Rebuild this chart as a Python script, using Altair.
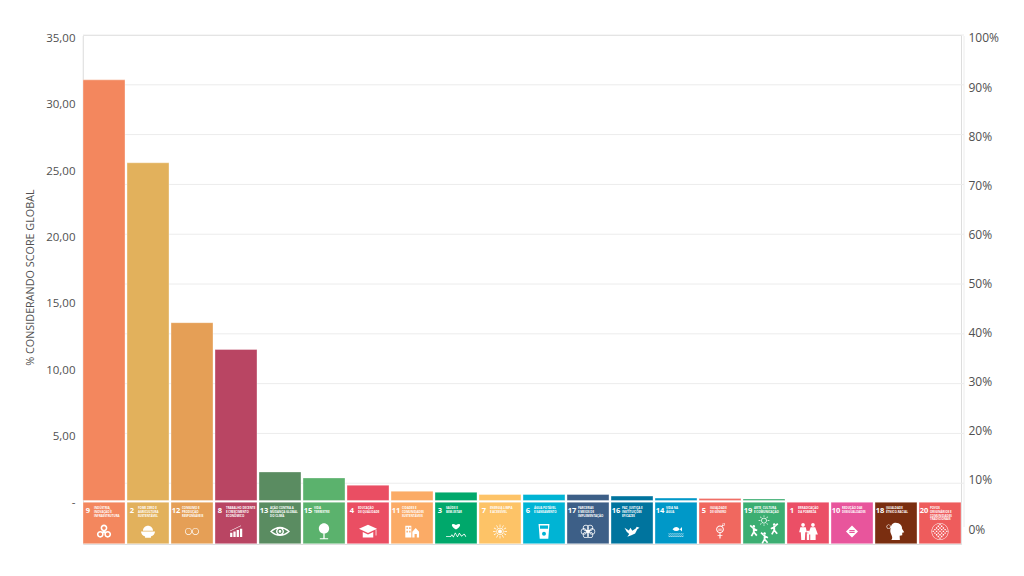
import math
import altair as alt
import pandas as pd

CATEGORIES = ["9", "2", "12", "8", "13", "15", "4", "11", "3", "7", "6", "17", "16", "14", "5", "19", "1", "10", "18", "20"]
VALUES = [31.7, 25.45, 13.4, 11.38, 2.15, 1.7, 1.15, 0.7, 0.62, 0.45, 0.45, 0.45, 0.33, 0.18, 0.14, 0.12, 0, 0, 0, 0]
COLORS = ["#F3875E", "#E2B15C", "#E59F56", "#B94563", "#5A8C61", "#5BB26D", "#EA4E63", "#FBAB66", "#00A86B", "#FDC367",
          "#00B4D4", "#3D5F87", "#00749E", "#0098C8", "#F0685F", "#3CAE72", "#EB4F66", "#E8559C", "#7A2E10", "#EE5C5C"]
NAMES = ["INDÚSTRIA,\nINOVAÇÃO E\nINFRAESTRUTURA", "FOME ZERO E\nAGRICULTURA\nSUSTENTÁVEL", "CONSUMO E\nPRODUÇÃO\nRESPONSÁVEIS",
         "TRABALHO DECENTE\nE CRESCIMENTO\nECONÔMICO", "AÇÃO CONTRA A\nMUDANÇA GLOBAL\nDO CLIMA", "VIDA\nTERRESTRE",
         "EDUCAÇÃO\nDE QUALIDADE", "CIDADES E\nCOMUNIDADES\nSUSTENTÁVEIS", "SAÚDE E\nBEM-ESTAR", "ENERGIA LIMPA\nE ACESSÍVEL",
         "ÁGUA POTÁVEL\nE SANEAMENTO", "PARCERIAS\nE MEIOS DE\nIMPLEMENTAÇÃO", "PAZ, JUSTIÇA E\nINSTITUIÇÕES\nEFICAZES", "VIDA NA\nÁGUA",
         "IGUALDADE\nDE GÊNERO", "ARTE, CULTURA\nE COMUNICAÇÃO", "ERRADICAÇÃO\nDA POBREZA", "REDUÇÃO DAS\nDESIGUALDADES",
         "IGUALDADE\nÉTNICO-RACIAL", "POVOS\nORIGINÁRIOS E\nCOMUNIDADES\nTRADICIONAIS"]
LEFT_TICKS = [0, 5, 10, 15, 20, 25, 30, 35]
RIGHT_TICKS = [0, 10, 20, 30, 40, 50, 60, 70, 80, 90, 100]
GRID_LEVELS = [10, 20, 30, 40, 50, 60, 70, 80, 90, 100]
Y_TITLE = "% CONSIDERANDO SCORE GLOBAL"


# ---- small helpers that draw the white pictograms as symbol paths (unit box -1..1)
def poly(*p):
    return "M" + " L".join(f"{x:.3f},{y:.3f}" for x, y in p) + " Z "
def rect(a, b, c, d):
    return poly((a, b), (c, b), (c, d), (a, d))
def hole(a, b, c, d):
    return poly((a, b), (a, d), (c, d), (c, b))
def circ(x, y, r, ccw=False):
    s = 0 if ccw else 1
    return f"M{x-r:.3f},{y:.3f} A{r:.3f},{r:.3f} 0 1 {s} {x+r:.3f},{y:.3f} A{r:.3f},{r:.3f} 0 1 {s} {x-r:.3f},{y:.3f} Z "
def ring(x, y, r, t):
    return circ(x, y, r) + circ(x, y, r - t, True)
def line(pts, w=.07):
    out = ""
    for (a, b), (c, d) in zip(pts, pts[1:]):
        L = math.hypot(c - a, d - b) or 1
        nx, ny = -(d - b) / L * w, (c - a) / L * w
        out += poly((a + nx, b + ny), (c + nx, d + ny), (c - nx, d - ny), (a - nx, b - ny))
    return out
def dancer(x, y, k=1):
    return circ(x, y - .32, .11) + line([(x, y - .2), (x, y + .15)], .08) + line([(x - .3 * k, y - .4), (x, y - .12), (x + .28 * k, y + .02)]) \
        + line([(x - .2, y + .5), (x, y + .15), (x + .25, y + .45)])

sun_rays = "".join(line([(.62 * math.cos(a * math.pi / 6), .62 * math.sin(a * math.pi / 6)),
                         (1.0 * math.cos(a * math.pi / 6), 1.0 * math.sin(a * math.pi / 6))], .05) for a in range(12))
flower = "".join(ring(.55 * math.cos(a * math.pi / 3), .55 * math.sin(a * math.pi / 3), .42, .1) for a in range(6))
mosaic = "".join(rect(x * .2 - .08, y * .2 - .08, x * .2 + .08, y * .2 + .08)
                 for x in range(-4, 5) for y in range(-4, 5) if (x + y) % 2 == 0 and x * x + y * y <= 17)

ICONS = {
    "9": ring(0, -.42, .42, .2) + ring(-.46, .36, .42, .2) + ring(.46, .36, .42, .2) + circ(0, .02, .2),
    "2": "M-.72,-.08 A.72,.72 0 0 1 .72,-.08 Z M-1,.02 L1,.02 C.95,.55 .55,.7 .42,.72 L.42,.9 L-.42,.9 L-.42,.72 C-.55,.7 -.95,.55 -1,.02 Z ",
    "12": ring(-.46, 0, .46, .09) + ring(.46, 0, .46, .09),
    "8": rect(-.9, .2, -.55, .85) + rect(-.4, 0, -.05, .85) + rect(.1, -.2, .45, .85) + rect(.6, -.4, .95, .85) + line([(-.9, -.05), (.75, -.85)], .035),
    "13": "M-1.25,0 Q0,-1.15 1.25,0 Q0,1.15 -1.25,0 Z M-1,0 Q0,.8 1,0 Q0,-.8 -1,0 Z " + ring(0, 0, .5, .18) + circ(0, 0, .16),
    "15": circ(0, -.35, .62) + rect(-.08, .1, .08, .82) + rect(-.5, .82, .5, .95),
    "4": poly((-1.2, -.35), (0, -.9), (1.2, -.35), (0, .2)) + poly((-.7, .08), (0, .42), (.7, .08), (.7, .8), (-.7, .8)) + rect(1.02, -.25, 1.12, .55),
    "11": rect(-1, -.85, -.1, .9) + hole(-.82, -.6, -.62, -.35) + hole(-.42, -.6, -.22, -.35) + hole(-.82, -.1, -.62, .15) + hole(-.42, -.1, -.22, .15)
          + poly((.05, .05), (.55, -.5), (1.05, .05), (1.05, .9), (.72, .9), (.72, .4), (.38, .4), (.38, .9), (.05, .9)),
    "3": "M0,-.25 C-.9,-.8 -.55,-1.25 0,-.85 C.55,-1.25 .9,-.8 0,-.25 Z " + line([(-1.35, .72), (-.75, .72), (-.55, .45), (-.35, .78), (-.1, .2), (.2, .75), (.45, .25), (.75, .65), (1.1, .35), (1.35, .72)], .05),
    "7": ring(0, 0, .52, .1) + circ(0, 0, .28) + sun_rays,
    "6": poly((-.7, -.95), (.7, -.95), (.55, .95), (-.55, .95)) + hole(-.52, -.75, .52, -.35) + circ(0, .3, .25, True),
    "17": flower + circ(0, 0, .22),
    "16": poly((-1.2, -.6), (-.5, -.15), (-.25, -.6), (.05, -.1), (.6, -.45), (.75, -.75), (1.2, -.6), (.85, -.35), (.5, .35), (-.1, .6), (-.75, .85), (-.45, .4), (-.85, .05)),
    "14": "M-.55,-.35 Q.05,-1 .6,-.35 L.95,-.7 L.95,0 L.6,-.35 Q.05,.25 -.55,-.35 Z " + "".join(
        line([(-1.2 + i * .3, y), (-1.05 + i * .3, y + .1), (-.9 + i * .3, y)], .04) for i in range(8) for y in (.35, .7)),
    "5": ring(0, -.3, .55, .14) + rect(-.08, .2, .08, 1.0) + rect(-.35, .5, .35, .64) + rect(-.25, -.36, .25, -.26) + rect(-.25, -.18, .25, -.08) + line([(.3, -.75), (.55, -1.05)], .07) + poly((.3, -1.1), (.7, -1.15), (.62, -.78)),
    "19": ring(0, -.9, .24, .06) + dancer(-.85, -.1) + dancer(.85, -.25, -1) + dancer(.05, .5) + "".join(
        line([(.3 * math.cos(a * math.pi / 4), -.9 + .3 * math.sin(a * math.pi / 4)), (.45 * math.cos(a * math.pi / 4), -.9 + .45 * math.sin(a * math.pi / 4))], .025) for a in range(8)),
    "1": circ(-.55, -.72, .2) + poly((-.85, -.45), (-.25, -.45), (-.12, .1), (-.3, .1), (-.35, .95), (-.75, .95), (-.8, .1), (-.98, .1))
         + circ(.55, -.72, .2) + poly((.3, -.45), (.8, -.45), (1.1, .35), (.85, .35), (.85, .95), (.25, .95), (.25, .35), (0, .35))
         + circ(0, .05, .13) + rect(-.13, .22, .13, .95),
    "10": poly((0, -.95), (.95, 0), (0, .95), (-.95, 0)) + hole(-.42, -.24, .42, -.07) + hole(-.42, .07, .42, .24),
    "18": "M-.15,-1 C.45,-1.05 .75,-.6 .7,-.3 L.95,.1 L.72,.15 L.72,.45 L.42,.5 L.45,1 L-.55,1 C-.2,.6 -.75,.3 -.65,-.2 C-.6,-.7 -.45,-.95 -.15,-1 Z "
          + ring(-.85, -.55, .25, .07) + rect(-.15, .25, .1, .65),
    "20": ring(0, 0, 1.0, .06) + mosaic,
}
ICON_AREAS = {"9": 260, "2": 196, "12": 231, "8": 172, "13": 256, "15": 276, "4": 225, "11": 180, "3": 219, "7": 196,
              "6": 243, "17": 225, "16": 156, "14": 160, "5": 196, "19": 576, "1": 324, "10": 160, "18": 300, "20": 289}

data = pd.DataFrame({"cat": CATEGORIES, "value": VALUES, "color": COLORS, "name": NAMES})
data["icon"] = [ICONS[c] for c in CATEGORIES]
data["area"] = [ICON_AREAS[c] for c in CATEGORIES]
bars_df = data[data["value"] > 0]

FONT = "Open Sans"
GREY = "#505050"
LINE = "#ececec"

x_enc = alt.X("cat:N", sort=CATEGORIES, axis=None,
              scale=alt.Scale(paddingInner=2 / 44, paddingOuter=0))
color_enc = alt.Color("color:N", scale=None, legend=None)
left = alt.Scale(domain=[-3.28, 35.08], nice=False, zero=False)
right = alt.Scale(domain=[-3.46, 100.2], nice=False, zero=False)
grid_scale = alt.Scale(domain=[-2.2, 100], nice=False, zero=False)

grid = alt.Chart(pd.DataFrame({"level": GRID_LEVELS})).mark_rule(color=LINE, strokeWidth=1).encode(
    y=alt.Y("level:Q", scale=grid_scale, axis=None), x=alt.value(0), x2=alt.value(881))

left_line = alt.Chart(data.head(1)).mark_rule(color=LINE, strokeWidth=1).encode(
    x=alt.value(0), y=alt.Y(datum=35, scale=left, axis=None), y2=alt.Y2(datum=0))

right_line = alt.Chart(data.head(1)).mark_rule(color=LINE, strokeWidth=1).encode(
    x=alt.value(881),
    y=alt.Y(datum=100, scale=right, axis=alt.Axis(
        orient="right", values=RIGHT_TICKS, title=None, grid=False, domain=False, ticks=False,
        labelPadding=7, labelOffset=2, labelFont=FONT, labelFontSize=12, labelColor=GREY, labelExpr="datum.value + '%'")),
    y2=alt.Y2(datum=0))

bars = alt.Chart(bars_df).mark_bar(stroke="white", strokeOpacity=.35, strokeWidth=1).encode(
    x=x_enc,
    y=alt.Y("value:Q", scale=left, axis=alt.Axis(
        orient="left", values=LEFT_TICKS, title=Y_TITLE, grid=False, domain=False, ticks=False,
        labelPadding=8, labelOffset=2.5, labelFont=FONT, labelFontSize=11.5, labelColor=GREY,
        labelExpr="datum.value == 0 ? '-' : replace(format(datum.value, '.2f'), '.', ',')",
        titleFont=FONT, titleFontSize=10.8, titleFontWeight="normal", titleColor=GREY, titlePadding=10, titleY=242)),
    y2=alt.Y2(datum=0),
    color=color_enc)

tiles = alt.Chart(data).mark_bar(stroke="white", strokeOpacity=.35, strokeWidth=1).encode(
    x=x_enc, y=alt.Y(datum=-.13, scale=left, axis=None), y2=alt.Y2(datum=-3.26), color=color_enc)

numbers = alt.Chart(data).mark_text(font=FONT, fontSize=7.5, fontWeight="bold", color="white", dx=-16).encode(
    x=x_enc, y=alt.Y(datum=-.83, scale=left, axis=None), text="cat:N")

names = alt.Chart(data).mark_text(font=FONT, fontSize=2.9, fontWeight="bold", color="white", align="left",
                                  baseline="top", dx=-10, lineBreak="\n", lineHeight=3.6).encode(
    x=x_enc, y=alt.Y(datum=-.52, scale=left, axis=None), text="name:N")

icons = alt.Chart(data).mark_point(filled=True, fill="white", opacity=1, strokeWidth=0).encode(
    x=x_enc, y=alt.Y(datum=-2.33, scale=left, axis=None),
    shape=alt.Shape("icon:N", scale=None, legend=None),
    size=alt.Size("area:Q", scale=None, legend=None))

chart = alt.layer(grid, left_line, right_line, bars, tiles, names, numbers, icons).resolve_scale(
    y="independent").properties(
    width=878, height=509, padding={"left": 16, "top": 23, "right": 5, "bottom": 5}
).configure_view(stroke=None).configure(background="white")

chart.save("out.html", embed_options={"renderer": "svg", "actions": False})
